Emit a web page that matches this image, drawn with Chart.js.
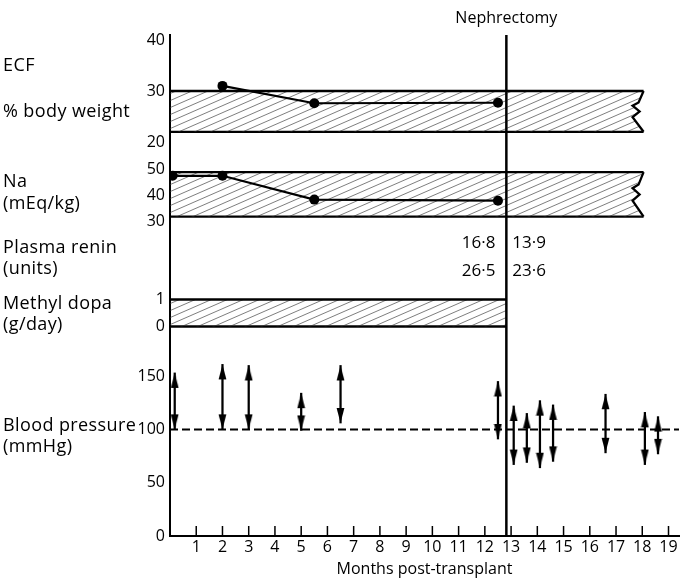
<!DOCTYPE html>
<html>
<head>
<meta charset="utf-8">
<script src="https://cdn.jsdelivr.net/npm/chart.js@4.4.1/dist/chart.umd.min.js"></script>
<style>
  html, body { margin: 0; padding: 0; background: #fff; }
  #wrap { position: relative; width: 684px; height: 579px; }
</style>
</head>
<body>
<div id="wrap"><canvas id="chart" width="684" height="579"></canvas></div>
<script>
// Months post-transplant
const MONTH_TICKS = [1, 2, 3, 4, 5, 6, 7, 8, 9, 10, 11, 12, 13, 14, 15, 16, 17, 18, 19];
const NEPHRECTOMY_MONTH = 12.82;
const NORMAL_END_MONTH = 18.05;

// ECF (% body weight)
const ECF_MONTHS = [2, 5.5, 12.5];
const ECF_VALUES = [31, 27.6, 27.7];
const ECF_NORMAL = [22, 30];
const ECF_TICKS = [20, 30, 40];

// Na (mEq/kg)
const NA_MONTHS = [0.1, 2, 5.5, 12.5];
const NA_VALUES = [47.6, 47.6, 38.5, 38.1];
const NA_NORMAL = [32, 49];
const NA_TICKS = [30, 40, 50];

// Plasma renin (units), before / after nephrectomy
const RENIN_BEFORE = [16.8, 26.5];
const RENIN_AFTER = [13.9, 23.6];

// Methyl dopa (g/day)
const DOPA_DOSE = [0, 1];
const DOPA_TICKS = [0, 1];

// Blood pressure (mmHg)
const BP_MONTHS = [0.18, 2, 3, 5, 6.5, 12.5, 13.1, 13.6, 14.1, 14.6, 16.6, 18.1, 18.6];
const BP_SYSTOLIC = [153, 161, 160, 134, 160, 145, 122, 115, 127, 123, 133, 116, 112];
const BP_DIASTOLIC = [100, 100, 100, 99, 106, 91, 67, 69, 64, 70, 78, 67, 77];
const BP_REFERENCE = 100;
const BP_TICKS = [0, 50, 100, 150];

const FONT = "'Open Sans', sans-serif";

// hatch pattern for the shaded bands
function makeHatch() {
    const c = document.createElement('canvas');
    c.width = 16;
    c.height = 7;
    const g = c.getContext('2d');
    g.strokeStyle = 'rgba(50,50,50,0.7)';
    g.lineWidth = 0.9;
    [-7, 0, 7].forEach(dy => {
        g.beginPath();
        g.moveTo(-16, 14 + dy);
        g.lineTo(32, -7 + dy);
        g.stroke();
    });
    return document.getElementById('chart').getContext('2d').createPattern(c, 'repeat');
}

// arrowhead image, tip at the centre
function makeArrowHead() {
    const c = document.createElement('canvas');
    c.width = 9;
    c.height = 32;
    const g = c.getContext('2d');
    g.fillStyle = '#000';
    g.beginPath();
    g.moveTo(4.5, 16);
    g.lineTo(8.4, 31);
    g.lineTo(0.6, 31);
    g.closePath();
    g.fill();
    return c;
}

const hatch = makeHatch();
const arrowHead = makeArrowHead();

function panelAxis(min, max, height, order, tickValues) {
    return {
        type: 'linear',
        position: 'left',
        stack: 'panels',
        stackWeight: height,
        weight: order,
        min: min,
        max: max,
        afterBuildTicks: s => { s.ticks = tickValues.map(v => ({ value: v })); },
        afterFit: s => { s.width = 170; },
        grid: { display: false, drawTicks: false },
        border: { display: true, color: '#000', width: 2 },
        ticks: {
            display: tickValues.length > 0,
            autoSkip: false,
            color: '#000',
            padding: 5,
            font: { family: FONT, size: 16 }
        }
    };
}

function band(axis, from, to, range, withFill) {
    return {
        type: 'line',
        yAxisID: axis,
        order: 3,
        data: [{ x: from, y: range }, { x: to, y: range }],
        borderColor: '#000',
        borderWidth: 2.3,
        pointRadius: 0,
        fill: withFill ? '+1' : false,
        backgroundColor: hatch
    };
}

function series(axis, months, values) {
    return {
        type: 'line',
        yAxisID: axis,
        order: 0,
        data: months.map((m, i) => ({ x: m, y: values[i] })),
        borderColor: '#000',
        borderWidth: 2.2,
        pointRadius: 5,
        pointBackgroundColor: '#000',
        pointBorderWidth: 0,
        fill: false
    };
}

const sideLabels = [
    ['yEcf', 35, 'ECF'], ['yEcf', 26, '% body weight'],
    ['yNa', 45.2, 'Na'], ['yNa', 37, '(mEq/kg)'],
    ['yRenin', 0.65, 'Plasma renin'], ['yRenin', 0.28, '(units)'],
    ['yDopa', 0.83, 'Methyl dopa'], ['yDopa', 0.06, '(g/day)'],
    ['yBp', 103, 'Blood pressure'], ['yBp', 84, '(mmHg)']
];

const paperPlugin = {
    id: 'paper',
    afterDatasetsDraw(chart) {
        const { ctx, chartArea, scales } = chart;
        const xs = scales.x;

        // zig-zag break at the right end of the normal ranges
        [['yEcf', ECF_NORMAL], ['yNa', NA_NORMAL]].forEach(([id, range]) => {
            const ys = scales[id];
            const px = xs.getPixelForValue(NORMAL_END_MONTH);
            const top = ys.getPixelForValue(range[1]);
            const bot = ys.getPixelForValue(range[0]);
            const h = bot - top;
            const zig = [[0, 0], [-5, 0.28], [-11, 0.36], [-4, 0.5], [-11, 0.64], [0, 1]];
            ctx.save();
            ctx.fillStyle = '#fff';
            ctx.beginPath();
            zig.forEach(([dx, f], i) => {
                if (i === 0) ctx.moveTo(px + dx, top + f * h);
                else ctx.lineTo(px + dx, top + f * h);
            });
            ctx.lineTo(px + 3, bot);
            ctx.lineTo(px + 3, top);
            ctx.closePath();
            ctx.fill();
            ctx.strokeStyle = '#000';
            ctx.lineWidth = 2.3;
            ctx.beginPath();
            zig.forEach(([dx, f], i) => {
                if (i === 0) ctx.moveTo(px + dx, top + f * h);
                else ctx.lineTo(px + dx, top + f * h);
            });
            ctx.stroke();
            ctx.restore();
        });

        // nephrectomy line
        const nx = xs.getPixelForValue(NEPHRECTOMY_MONTH);
        ctx.save();
        ctx.strokeStyle = '#000';
        ctx.lineWidth = 2.5;
        ctx.beginPath();
        ctx.moveTo(nx, chartArea.top);
        ctx.lineTo(nx, chartArea.bottom);
        ctx.stroke();

        // month tick marks, pointing up into the plot
        ctx.lineWidth = 1.5;
        MONTH_TICKS.forEach(m => {
            const px = xs.getPixelForValue(m);
            ctx.beginPath();
            ctx.moveTo(px, chartArea.bottom);
            ctx.lineTo(px, chartArea.bottom - 10);
            ctx.stroke();
        });
        ctx.restore();
    },
    afterDraw(chart) {
        const { ctx, scales } = chart;
        const nx = scales.x.getPixelForValue(NEPHRECTOMY_MONTH);
        ctx.save();
        ctx.fillStyle = '#000';
        ctx.textBaseline = 'middle';

        ctx.font = '18px ' + FONT;
        ctx.letterSpacing = '0.4px';
        ctx.textAlign = 'left';
        sideLabels.forEach(([id, v, text]) => {
            ctx.fillText(text, 3, scales[id].getPixelForValue(v));
        });
        ctx.letterSpacing = '0px';

        // renin values either side of the nephrectomy line
        ctx.font = '17px ' + FONT;
        const rows = [0.74, 0.24];
        const fmt = v => v.toFixed(1).replace('.', '\u00b7');
        ctx.textAlign = 'right';
        RENIN_BEFORE.forEach((v, i) => ctx.fillText(fmt(v), nx - 11, scales.yRenin.getPixelForValue(rows[i])));
        ctx.textAlign = 'left';
        RENIN_AFTER.forEach((v, i) => ctx.fillText(fmt(v), nx + 6, scales.yRenin.getPixelForValue(rows[i])));

        ctx.font = '16px ' + FONT;
        ctx.textAlign = 'center';
        ctx.fillText('Nephrectomy', nx, 18);
        ctx.restore();
    }
};

new Chart(document.getElementById('chart'), {
    type: 'line',
    data: {
        datasets: [
            series('yEcf', ECF_MONTHS, ECF_VALUES),
            series('yNa', NA_MONTHS, NA_VALUES),
            band('yEcf', 0, NORMAL_END_MONTH, ECF_NORMAL[1], true),
            band('yEcf', 0, NORMAL_END_MONTH, ECF_NORMAL[0], false),
            band('yNa', 0, NORMAL_END_MONTH, NA_NORMAL[1], true),
            band('yNa', 0, NORMAL_END_MONTH, NA_NORMAL[0], false),
            band('yDopa', 0, NEPHRECTOMY_MONTH, DOPA_DOSE[1], true),
            band('yDopa', 0, NEPHRECTOMY_MONTH, DOPA_DOSE[0], false),
            {
                type: 'line',
                yAxisID: 'yBp',
                order: 2,
                data: [{ x: 0, y: BP_REFERENCE }, { x: 19.4, y: BP_REFERENCE }],
                borderColor: '#000',
                borderWidth: 2,
                borderDash: [8, 4],
                pointRadius: 0,
                fill: false
            },
            {
                type: 'bar',
                yAxisID: 'yBp',
                order: 1,
                data: BP_MONTHS.map((m, i) => ({ x: m, y: [BP_DIASTOLIC[i], BP_SYSTOLIC[i]] })),
                backgroundColor: '#000',
                borderWidth: 0,
                barThickness: 1.6
            },
            {
                type: 'scatter',
                yAxisID: 'yBp',
                order: 0,
                data: BP_MONTHS.map((m, i) => ({ x: m, y: BP_SYSTOLIC[i] })),
                pointStyle: arrowHead,
                pointRadius: 3
            },
            {
                type: 'scatter',
                yAxisID: 'yBp',
                order: 0,
                data: BP_MONTHS.map((m, i) => ({ x: m, y: BP_DIASTOLIC[i] })),
                pointStyle: arrowHead,
                rotation: 180,
                pointRadius: 3
            }
        ]
    },
    options: {
        responsive: false,
        animation: false,
        layout: { padding: { top: 35, left: 0, right: 0, bottom: 0 } },
        plugins: {
            legend: { display: false },
            tooltip: { enabled: false }
        },
        scales: {
            x: {
                type: 'linear',
                min: 0,
                max: 19.4,
                offset: false,
                afterBuildTicks: s => { s.ticks = MONTH_TICKS.map(v => ({ value: v })); },
                afterFit: s => {
                    s.height = 43;
                    s.paddingLeft = 0;
                    s.paddingRight = 0;
                },
                grid: { display: false, drawTicks: false },
                border: { display: true, color: '#000', width: 2 },
                ticks: {
                    color: '#000',
                    padding: 2,
                    maxRotation: 0,
                    autoSkip: false,
                    font: { family: FONT, size: 16 }
                },
                title: {
                    display: true,
                    text: 'Months post-transplant',
                    color: '#000',
                    font: { family: FONT, size: 16 },
                    padding: { top: 0, bottom: 0 }
                }
            },
            yEcf: panelAxis(18.43, 40.98, 115, 5, ECF_TICKS),
            yNa: panelAxis(27.67, 57.44, 78, 4, NA_TICKS),
            yRenin: panelAxis(0, 1, 57, 3, []),
            yDopa: panelAxis(-0.685, 1.537, 60, 2, DOPA_TICKS),
            yBp: panelAxis(0, 179.2, 191, 1, BP_TICKS)
        }
    },
    plugins: [paperPlugin]
});
</script>
</body>
</html>
